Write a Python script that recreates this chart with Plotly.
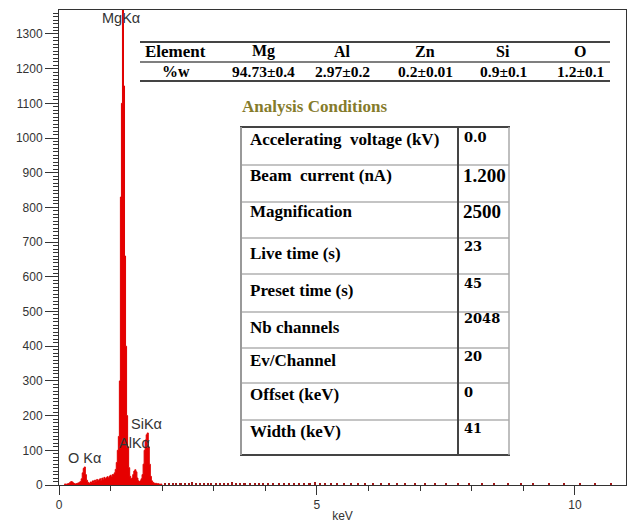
import plotly.graph_objects as go

# ---------------- data ----------------
energy_keV = [0.10, 0.12, 0.14, 0.16, 0.18, 0.20, 0.22, 0.24, 0.26, 0.28,
              0.30, 0.32, 0.34, 0.36, 0.38, 0.40, 0.42, 0.44, 0.46, 0.48,
              0.50, 0.52, 0.54, 0.56, 0.58, 0.60, 0.62, 0.64, 0.66, 0.68,
              0.70, 0.72, 0.74, 0.76, 0.78, 0.80, 0.82, 0.84, 0.86, 0.88,
              0.90, 0.92, 0.94, 0.96, 0.98, 1.00, 1.02, 1.04, 1.06, 1.08,
              1.10, 1.12, 1.14, 1.16, 1.18, 1.20, 1.22, 1.24, 1.26, 1.28,
              1.30, 1.32, 1.34, 1.36, 1.38, 1.40, 1.42, 1.44, 1.46, 1.48,
              1.50, 1.52, 1.54, 1.56, 1.58, 1.60, 1.62, 1.64, 1.66, 1.68,
              1.70, 1.72, 1.74, 1.76, 1.78, 1.80, 1.82, 1.84, 1.86, 1.88,
              1.90, 1.92, 1.94, 1.96, 1.98, 2.00]
counts = [2, 3, 2, 3, 4, 5, 8, 10, 9, 6,
          4, 3, 4, 5, 6, 8, 10, 18, 35, 48,
          52, 30, 14, 8, 6, 5, 9, 7, 12, 8,
          14, 10, 16, 12, 15, 18, 13, 20, 16, 22,
          18, 21, 24, 20, 25, 28, 24, 30, 30, 35,
          45, 65, 100, 140, 300, 830, 1100, 1380, 1150, 660,
          400, 200, 110, 50, 25, 18, 20, 30, 40, 44,
          38, 20, 12, 10, 12, 18, 30, 60, 100, 130,
          145, 150, 110, 60, 25, 12, 8, 6, 4, 5,
          3, 4, 3, 2, 3, 2]

tail_keV = [2.06, 2.14, 2.22, 2.28, 2.36, 2.44, 2.52, 2.58, 2.66, 2.74,
            2.82, 2.90, 2.96, 3.04, 3.12, 3.20, 3.28, 3.36, 3.44, 3.52,
            3.60, 3.70, 3.80, 3.88, 3.96, 4.06, 4.16, 4.26, 4.36, 4.46,
            4.56, 4.66, 4.76, 4.86, 4.96, 5.06, 5.16, 5.28, 5.40, 5.52,
            5.66, 5.80, 5.94, 6.10, 6.24, 6.40, 6.56, 6.72, 6.90, 7.10,
            7.30, 7.50, 7.74, 7.96, 8.20, 8.44, 8.70, 8.96, 9.20, 9.50,
            9.80, 10.10, 10.40, 10.70]
tail_counts = [5, 6, 4, 7, 5, 6, 5, 8, 4, 6,
               5, 7, 4, 6, 5, 6, 4, 10, 5, 6,
               4, 5, 6, 4, 5, 6, 4, 5, 6, 4,
               5, 4, 6, 5, 9, 4, 5, 4, 6, 4,
               5, 4, 7, 4, 3, 5, 4, 3, 4, 3,
               4, 3, 4, 7, 3, 4, 3, 6, 3, 4,
               3, 4, 3, 7]

peak_labels = ["MgKα", "O Kα", "AlKα", "SiKα"]
peak_label_keV = [1.20, 0.50, 1.47, 1.70]
peak_label_counts = [1346, 78, 121, 176]

elements = ["Mg", "Al", "Zn", "Si", "O"]
wt_percent = ["94.73±0.4", "2.97±0.2", "0.2±0.01", "0.9±0.1", "1.2±0.1"]

cond_labels = ["Accelerating  voltage (kV)", "Beam  current (nA)", "Magnification",
               "Live time (s)", "Preset time (s)", "Nb channels", "Ev/Channel",
               "Offset (keV)", "Width (keV)"]
cond_values = ["0.0", "1.200", "2500", "23", "45", "2048", "20", "0", "41"]

# ---------------- layout helpers ----------------
W, H = 628, 525
L, R, T, B = 59, 626, 10, 485


def px(x):
    return (x - L) / (R - L)


def py(y):
    return (B - y) / (B - T)


SANS = "Liberation Sans, Arial, sans-serif"
SERIF = "Liberation Serif, Times New Roman, serif"
AXC = "#333333"

fig = go.Figure()
fig.add_trace(go.Scatter(x=energy_keV, y=counts, mode="lines", line_shape="hvh",
                         line=dict(color="#e00000", width=1), fill="tozeroy",
                         fillcolor="#e60000", hoverinfo="x+y", showlegend=False))
fig.add_trace(go.Bar(x=tail_keV, y=tail_counts, width=0.03,
                     marker=dict(color="#a01818", line_width=0), showlegend=False))

annotations = []
for t, xv, yv in zip(peak_labels, peak_label_keV, peak_label_counts):
    annotations.append(dict(x=xv, y=yv, xref="x", yref="y", text=t, showarrow=False,
                            font=dict(family=SANS, size=14.5, color="#333333")))

shapes = []


def hline(y, x0, x1, color, width):
    shapes.append(dict(type="line", xref="paper", yref="paper", x0=px(x0), x1=px(x1),
                       y0=py(y), y1=py(y), line=dict(color=color, width=width)))


def vline(x, y0, y1, color, width):
    shapes.append(dict(type="line", xref="paper", yref="paper", x0=px(x), x1=px(x),
                       y0=py(y0), y1=py(y1), line=dict(color=color, width=width)))


def text(t, x, y, size, family=SERIF, color="#000000", anchor="center", bold=True):
    annotations.append(dict(x=px(x), y=py(y), xref="paper", yref="paper",
                            text=("<b>%s</b>" % t) if bold else t, showarrow=False,
                            xanchor=anchor, yanchor="middle",
                            font=dict(family=family, size=size, color=color)))


# ---- composition table ----
hline(42, 140, 610, "#444444", 2)
hline(62, 140, 610, "#555555", 1.5)
hline(81, 140, 610, "#444444", 2)
col_x = [263, 342, 425, 503, 580]
text("Element", 175, 51, 17)
text("%w", 176, 71, 16)
for cx, el, w in zip(col_x, elements, wt_percent):
    text(el, cx, 51, 16)
    text(w, cx, 71, 15.5)

# ---- analysis conditions table ----
text("Analysis Conditions", 240, 106, 17, color="#857b2b", anchor="left")
row_lines = [165, 202, 238, 274, 312, 348, 383, 420]
for y in row_lines:
    hline(y, 241, 509, "#c4c4c4", 2)
hline(127, 240, 510, "#444444", 2)
hline(455, 240, 510, "#444444", 2)
vline(241, 127, 455, "#999999", 2)
vline(509, 127, 455, "#aaaaaa", 1.5)
vline(458, 127, 455, "#444444", 2)

label_y = [139, 176, 212, 254, 291, 327, 360, 394, 431]
value_y = [137, 176, 212, 247, 283, 319, 356, 392, 428]
for lab, ly in zip(cond_labels, label_y):
    text(lab.replace("  ", "&nbsp; "), 248, ly, 17, anchor="left")
for val, vy in zip(cond_values, value_y):
    if val in ("1.200", "2500"):
        text(val, 461, vy, 19, anchor="left")
    else:
        text(val, 462, vy, 13, family="DejaVu Serif, serif", anchor="left")

fig.update_layout(
    width=W, height=H,
    margin=dict(l=L, r=W - R, t=T, b=H - B, autoexpand=False),
    paper_bgcolor="white", plot_bgcolor="white",
    bargap=0, showlegend=False,
    annotations=annotations, shapes=shapes,
    xaxis=dict(range=[0, 10.99], dtick=5, tick0=0, showgrid=False, zeroline=False,
               automargin=False,
               showline=True, linecolor=AXC, linewidth=1, mirror=True,
               ticks="outside", ticklen=9, tickcolor=AXC, tickwidth=1,
               minor=dict(dtick=1, ticklen=5, ticks="outside", tickcolor=AXC, showgrid=False),
               tickfont=dict(family=SANS, size=12, color=AXC),
               title=dict(text="keV", standoff=0, font=dict(family=SANS, size=12, color=AXC))),
    yaxis=dict(range=[0, 1369], dtick=100, tick0=0, showgrid=False, zeroline=False,
               automargin=False,
               showline=True, linecolor=AXC, linewidth=1, mirror=True,
               ticks="outside", ticklen=13, tickcolor=AXC, tickwidth=1,
               minor=dict(dtick=10, ticklen=5, ticks="outside", tickcolor=AXC, showgrid=False),
               tickfont=dict(family=SANS, size=12, color=AXC)),
)

fig.write_html("out.html", config={"displayModeBar": False},
               post_script="document.body.style.margin='0';document.body.style.overflow='hidden';")
